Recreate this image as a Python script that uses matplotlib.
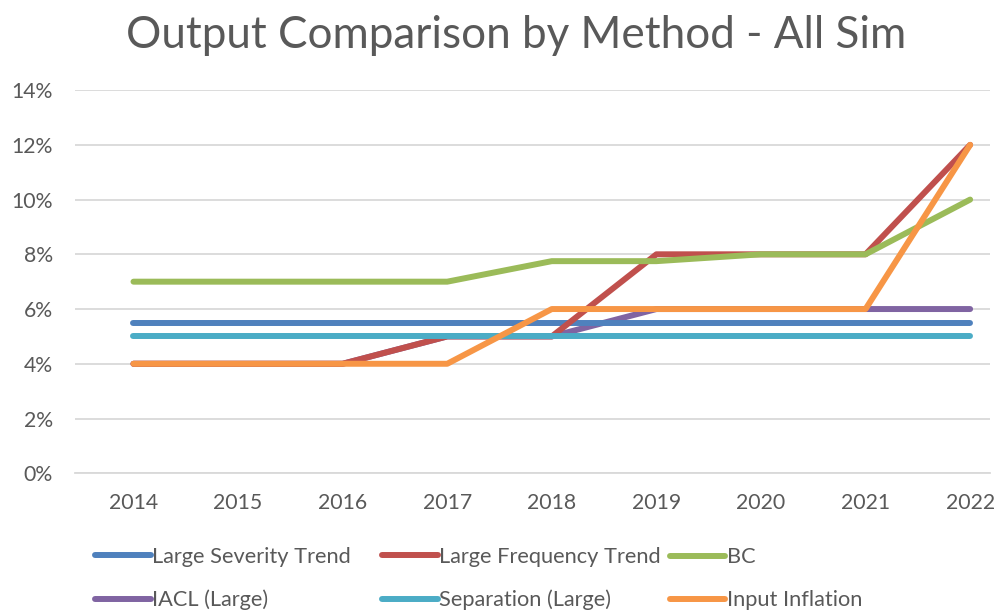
import numpy as np
import matplotlib.pyplot as plt

years = ["2014", "2015", "2016", "2017", "2018", "2019", "2020", "2021", "2022"]

large_severity = [5.5, 5.5, 5.5, 5.5, 5.5, 5.5, 5.5, 5.5, 5.5]
large_frequency = [4, 4, 4, 5, 5, 8, 8, 8, 12]
bc = [7, 7, 7, 7, 7.75, 7.75, 8, 8, 10]
iacl = [4, 4, 4, 5, 5, 6, 6, 6, 6]
separation = [5, 5, 5, 5, 5, 5, 5, 5, 5]
input_inflation = [4, 4, 4, 4, 6, 6, 6, 6, 12]

# name, values, colour, draw order
series = [
    ("Large Severity Trend", large_severity, "#4F81BD", 2),
    ("Large Frequency Trend", large_frequency, "#C0504D", 3),
    ("BC", bc, "#9BBB59", 4),
    ("IACL (Large)", iacl, "#8064A2", 1),
    ("Separation (Large)", separation, "#4BACC6", 5),
    ("Input Inflation", input_inflation, "#F79646", 6),
]

plt.rcParams['font.family'] = ['Lato', 'DejaVu Sans']

fig = plt.figure(figsize=(9.99, 6.13), dpi=100)
ax = fig.add_axes([0.075, 0.228, 0.916, 0.625])

x = np.arange(len(years))
lines = []
for name, vals, col, z in series:
    ln, = ax.plot(x, vals, color=col, lw=4.3, solid_capstyle='round',
                  solid_joinstyle='round', label=name, zorder=2 + z * 0.1)
    lines.append(ln)

ax.set_ylim(0, 14)
ax.set_xlim(-0.56, 8.19)
ax.set_yticks(np.arange(0, 15, 2))
ax.set_yticklabels([f"{v}%" for v in range(0, 15, 2)])
ax.set_xticks(x)
ax.set_xticklabels(years)
ax.grid(axis='y', color='#D9D9D9', lw=1.3)
ax.set_axisbelow(True)
for s in ['top', 'right', 'left']:
    ax.spines[s].set_visible(False)
ax.spines['bottom'].set_color('#D9D9D9')
ax.spines['bottom'].set_linewidth(1.3)
ax.tick_params(axis='both', length=0, labelsize=15.3, colors='#595959')
ax.tick_params(axis='x', pad=14)
ax.tick_params(axis='y', pad=16)

fig.suptitle("Output Comparison by Method - All Sim", fontsize=31.7,
             color='#595959', x=0.517, y=0.975)

# legend: three equal-width columns, two rows each
for c, x0 in enumerate([0.089, 0.376, 0.664]):
    hs = [lines[c], lines[c + 3]]
    leg = fig.legend(hs, [h.get_label() for h in hs], loc='lower left',
                     bbox_to_anchor=(x0, -0.006), ncol=1, frameon=False,
                     fontsize=15.7, labelcolor='#595959', handlelength=2.55,
                     handletextpad=0.05, labelspacing=1.05, borderpad=0.3,
                     borderaxespad=0.0)

fig.savefig("out.png", dpi=100)
